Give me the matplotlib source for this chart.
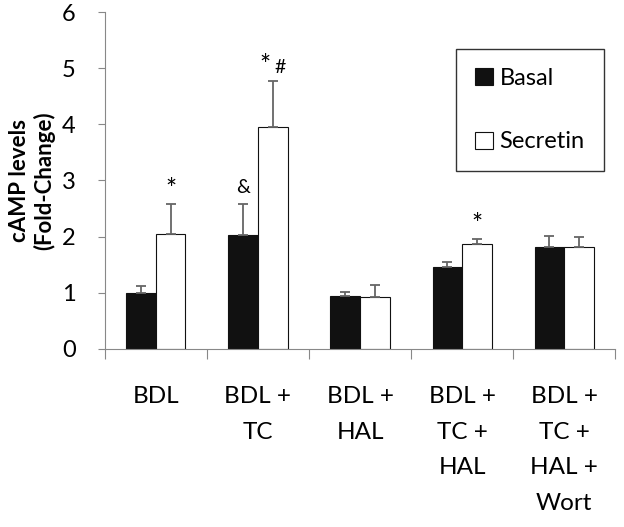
import numpy as np
import matplotlib.pyplot as plt

plt.rcParams['font.family'] = ['Lato', 'DejaVu Sans']

groups = ["BDL", "BDL +\nTC", "BDL +\nHAL", "BDL +\nTC +\nHAL", "BDL +\nTC +\nHAL +\nWort"]
basal = [1.00, 2.03, 0.95, 1.45, 1.81]
basal_err = [0.12, 0.56, 0.06, 0.09, 0.20]
secretin = [2.05, 3.95, 0.92, 1.86, 1.81]
secretin_err = [0.53, 0.83, 0.21, 0.09, 0.18]
sig_basal = ["", "&", "", "", ""]
sig_star = [True, True, False, True, False]
sig_hash = [False, True, False, False, False]

fig = plt.figure(figsize=(6.24, 5.27), dpi=100)
ax = fig.add_axes([0.168, 0.338, 0.818, 0.639])

x = np.arange(len(groups))
w = 0.29
err_kw = dict(ecolor='#666666', elinewidth=1.3, capsize=3.5, capthick=1.3)
b1 = ax.bar(x - w / 2, basal, w, color='#111111', edgecolor='#111111', linewidth=0.8,
            yerr=[np.zeros(len(basal)), basal_err], error_kw=err_kw, label='Basal')
b2 = ax.bar(x + w / 2, secretin, w, color='white', edgecolor='#111111', linewidth=0.8,
            yerr=[np.zeros(len(secretin)), secretin_err], error_kw=err_kw, label='Secretin')

# significance marks
for i in range(len(groups)):
    if sig_basal[i]:
        ax.text(x[i] - w / 2, basal[i] + basal_err[i] + 0.13, sig_basal[i],
                ha='center', va='bottom', fontsize=14)
    top = secretin[i] + secretin_err[i]
    if sig_star[i] and sig_hash[i]:
        ax.text(x[i] + w / 2 - 0.08, top + 0.02, "*", ha='center', va='bottom', fontsize=19)
        ax.text(x[i] + w / 2 + 0.07, top + 0.09, "#", ha='center', va='bottom', fontsize=14)
    elif sig_star[i]:
        ax.text(x[i] + w / 2, top + 0.02, "*", ha='center', va='bottom', fontsize=19)

ax.set_xlim(-0.5, len(groups) - 0.5)
ax.set_ylim(0, 6)
ax.set_yticks(range(7))
ax.tick_params(axis='y', labelsize=17, length=5, color='#888888', pad=16)

# category boundaries as major ticks, labels on minor ticks
ax.set_xticks(np.arange(len(groups) + 1) - 0.5)
ax.set_xticklabels([])
ax.tick_params(axis='x', which='major', length=7, color='#888888')
ax.set_xticks(x, minor=True)
ax.set_xticklabels(groups, minor=True, fontsize=17.5, linespacing=1.85, va='top')
ax.tick_params(axis='x', which='minor', length=0, pad=27)

for s in ['top', 'right']:
    ax.spines[s].set_visible(False)
for s in ['left', 'bottom']:
    ax.spines[s].set_color('#888888')

ax.set_ylabel("cAMP levels\n(Fold-Change)", fontsize=16, fontweight='bold',
              linespacing=1.15, labelpad=5)

leg = ax.legend(loc='upper left', bbox_to_anchor=(456 / 624, 1 - 49 / 527),
                bbox_transform=fig.transFigure, fontsize=17, frameon=True, fancybox=False,
                edgecolor='black', handlelength=0.75, handleheight=0.75, handletextpad=0.3,
                labelspacing=1.8, borderpad=0.8, borderaxespad=0)
leg.get_frame().set_linewidth(1.0)

fig.savefig("out.png", dpi=100)
